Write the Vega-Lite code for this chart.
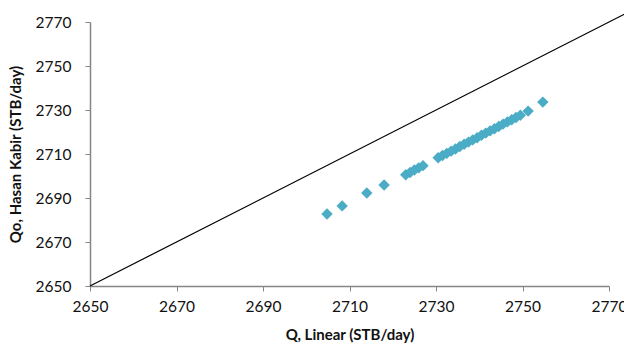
{
  "$schema": "https://vega.github.io/schema/vega-lite/v6.json",
  "width": 519,
  "height": 264,
  "autosize": "none",
  "padding": {"left": 90, "top": 22, "right": 15, "bottom": 59},
  "background": "white",
  "config": {
    "view": {"stroke": null},
    "font": "Lato",
    "axis": {
      "grid": false,
      "domainColor": "#868686",
      "domainWidth": 1.5,
      "tickColor": "#868686",
      "tickSize": 5,
      "labelFont": "Lato",
      "labelFontSize": 15.5,
      "labelColor": "#111111",
      "titleFont": "Lato",
      "titleFontSize": 15,
      "titleFontWeight": "bold",
      "titleColor": "#111111",
      "format": "d"
    }
  },
  "layer": [
    {
      "data": {"values": [{"x": 2650, "y": 2650}, {"x": 2780, "y": 2780}]},
      "mark": {"type": "line", "color": "black", "strokeWidth": 1.2, "clip": false},
      "encoding": {
        "x": {"field": "x", "type": "quantitative", "scale": {"domain": [2650, 2770], "nice": false, "zero": false},
              "axis": {"values": [2650, 2670, 2690, 2710, 2730, 2750, 2770], "format": "d", "title": "Q, Linear (STB/day)", "labelPadding": 8, "titlePadding": 13, "labelFlush": false}},
        "y": {"field": "y", "type": "quantitative", "scale": {"domain": [2650, 2770], "nice": false, "zero": false},
              "axis": {"values": [2650, 2670, 2690, 2710, 2730, 2750, 2770], "format": "d", "title": "Qo, Hasan Kabir (STB/day)", "labelPadding": 14, "titlePadding": 12, "labelFlush": false}}
      }
    },
    {
      "data": {"values": [
        {"x": 2704.8, "y": 2682.7},
        {"x": 2708.3, "y": 2686.4},
        {"x": 2714.0, "y": 2692.3},
        {"x": 2718.0, "y": 2695.9},
        {"x": 2723, "y": 2700.6},
        {"x": 2724, "y": 2701.6},
        {"x": 2725, "y": 2702.7},
        {"x": 2726, "y": 2703.7},
        {"x": 2727, "y": 2704.7},
        {"x": 2730.5, "y": 2708.3},
        {"x": 2731.5, "y": 2709.3},
        {"x": 2732.5, "y": 2710.3},
        {"x": 2733.5, "y": 2711.3},
        {"x": 2734.5, "y": 2712.3},
        {"x": 2735.5, "y": 2713.4},
        {"x": 2736.5, "y": 2714.4},
        {"x": 2737.5, "y": 2715.4},
        {"x": 2738.5, "y": 2716.4},
        {"x": 2739.5, "y": 2717.4},
        {"x": 2740.5, "y": 2718.5},
        {"x": 2741.5, "y": 2719.5},
        {"x": 2742.5, "y": 2720.5},
        {"x": 2743.5, "y": 2721.5},
        {"x": 2744.5, "y": 2722.5},
        {"x": 2745.5, "y": 2723.6},
        {"x": 2746.5, "y": 2724.6},
        {"x": 2747.5, "y": 2725.6},
        {"x": 2748.5, "y": 2726.6},
        {"x": 2749.5, "y": 2727.6},
        {"x": 2751.3, "y": 2729.5},
        {"x": 2754.7, "y": 2733.6}
      ]},
      "mark": {"type": "point", "shape": "diamond", "filled": true, "size": 130, "color": "#4BACC6", "opacity": 1},
      "encoding": {
        "x": {"field": "x", "type": "quantitative"},
        "y": {"field": "y", "type": "quantitative"}
      }
    }
  ]
}
